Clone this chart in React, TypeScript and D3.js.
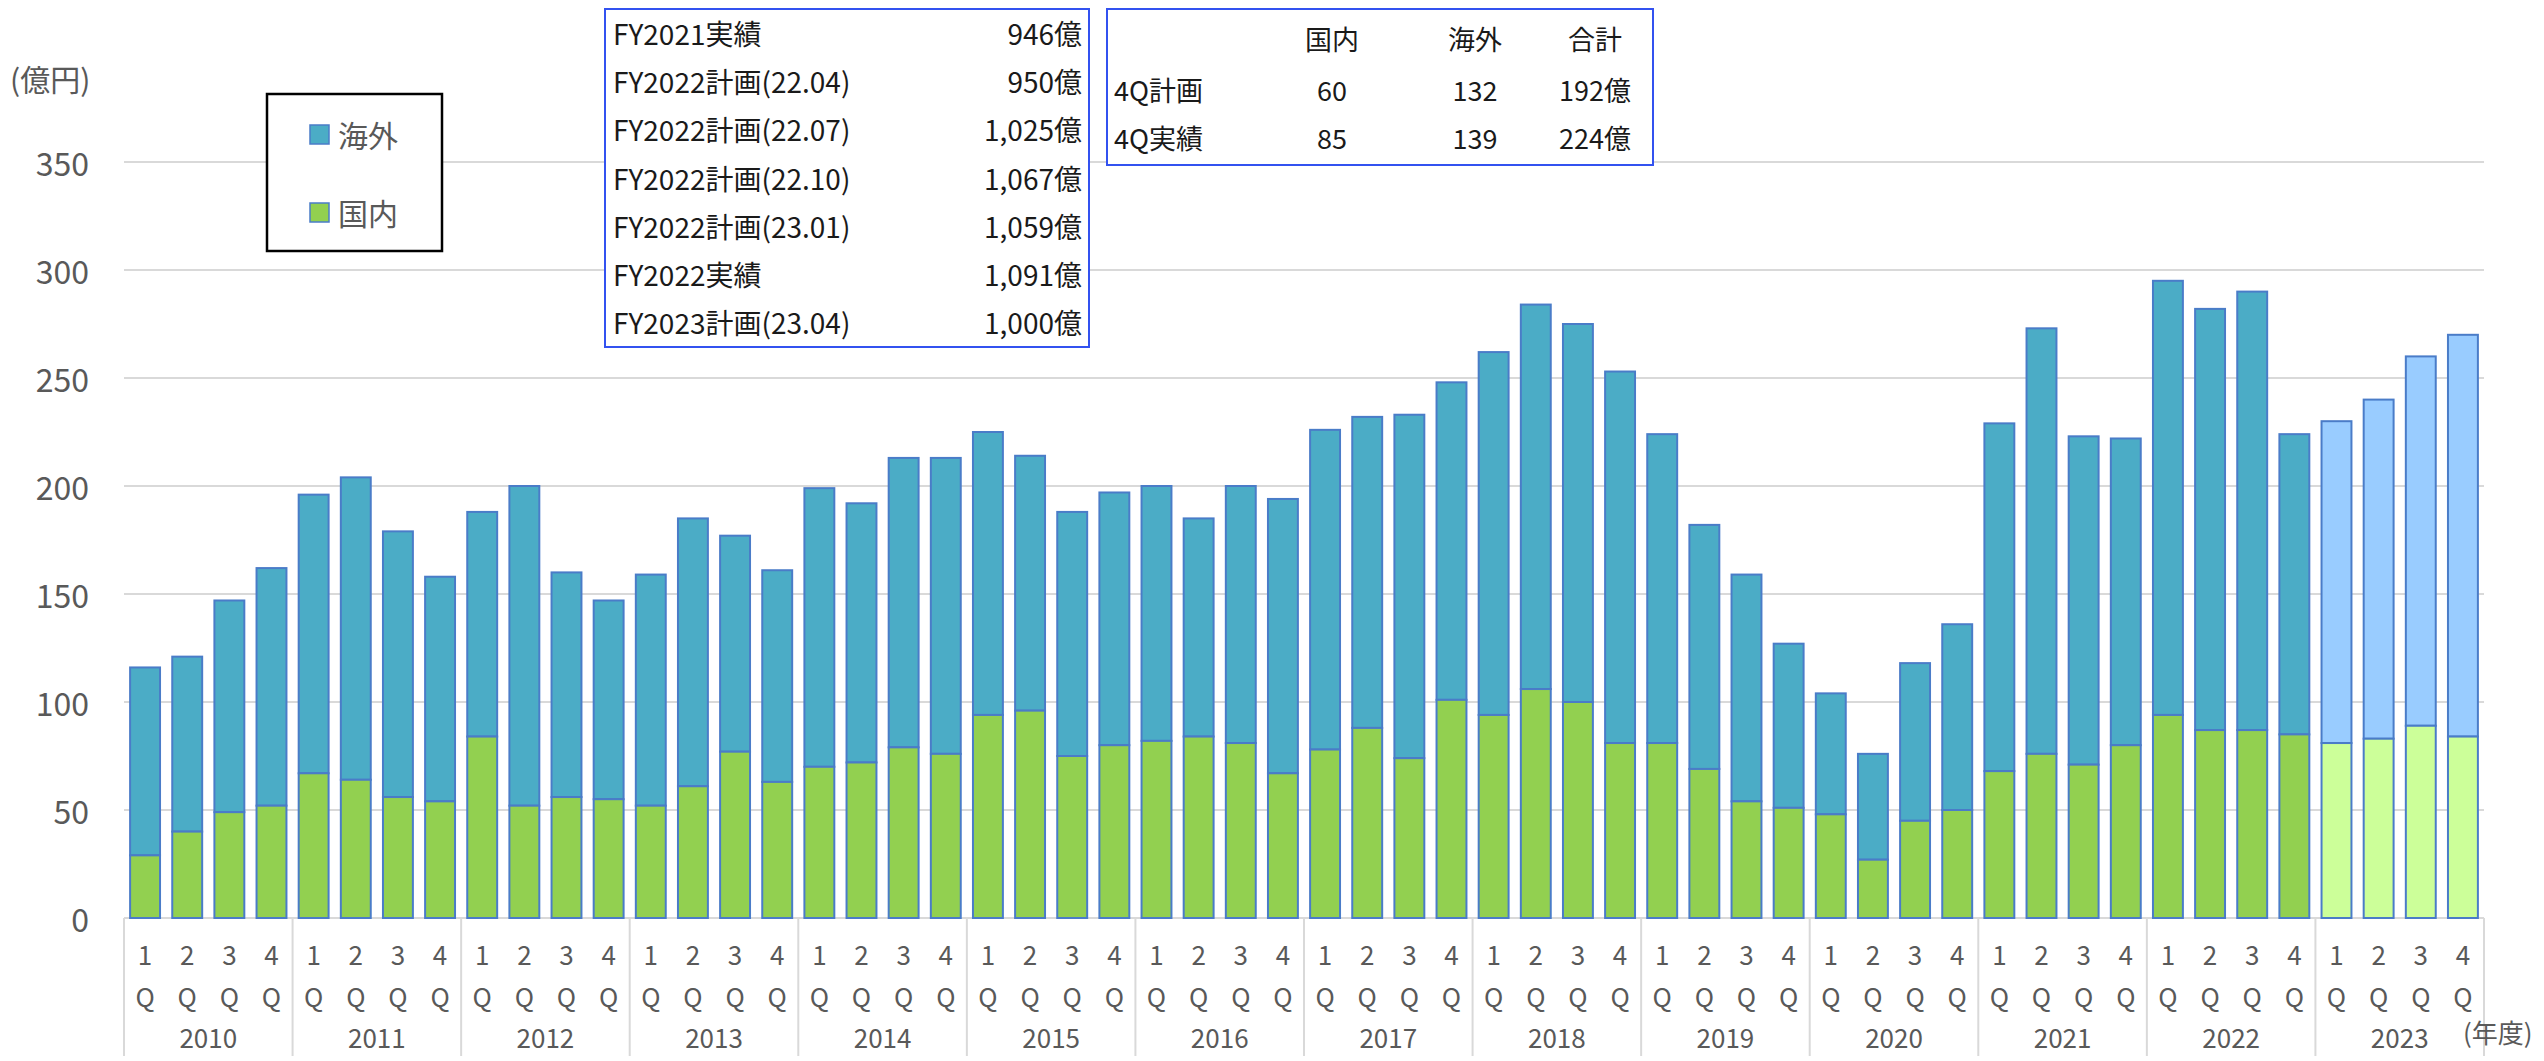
import React from 'react';
import * as d3 from 'd3';

const years = ['2010', '2011', '2012', '2013', '2014', '2015', '2016', '2017', '2018', '2019', '2020', '2021', '2022', '2023'];
const quarters = ['1', '2', '3', '4'];
const planYear = '2023';

// total (国内 + 海外) per quarter, 億円
const totals = [
  116, 121, 147, 162,
  196, 204, 179, 158,
  188, 200, 160, 147,
  159, 185, 177, 161,
  199, 192, 213, 213,
  225, 214, 188, 197,
  200, 185, 200, 194,
  226, 232, 233, 248,
  262, 284, 275, 253,
  224, 182, 159, 127,
  104, 76, 118, 136,
  229, 273, 223, 222,
  295, 282, 290, 224,
  230, 240, 260, 270,
];

// 国内 per quarter
const domestic = [
  29, 40, 49, 52,
  67, 64, 56, 54,
  84, 52, 56, 55,
  52, 61, 77, 63,
  70, 72, 79, 76,
  94, 96, 75, 80,
  82, 84, 81, 67,
  78, 88, 74, 101,
  94, 106, 100, 81,
  81, 69, 54, 51,
  48, 27, 45, 50,
  68, 76, 71, 80,
  94, 87, 87, 85,
  81, 83, 89, 84,
];

const yTicks = [0, 50, 100, 150, 200, 250, 300, 350];

const fyLabels = ['FY2021実績', 'FY2022計画(22.04)', 'FY2022計画(22.07)', 'FY2022計画(22.10)', 'FY2022計画(23.01)', 'FY2022実績', 'FY2023計画(23.04)'];
const fyValues = ['946億', '950億', '1,025億', '1,067億', '1,059億', '1,091億', '1,000億'];

const q4Header = ['国内', '海外', '合計'];
const q4Rows = ['4Q計画', '4Q実績'];
const q4Values = [
  ['60', '132', '192億'],
  ['85', '139', '224億'],
];

const FONT = '"Noto Sans CJK JP", "Noto Sans", sans-serif';
const COLORS = {
  overseas: '#4BACC6',
  domestic: '#92D050',
  overseasPlan: '#99CCFF',
  domesticPlan: '#CCFF99',
  outline: '#4A7CC8',
  grid: '#D9D9D9',
  text: '#595959',
  box: '#3352F0',
};

export default function App() {
  const width = 2544;
  const height = 1061;
  const plot = { left: 124, right: 2484, top: 162, bottom: 918 };

  const keys = years.flatMap((y) => quarters.map((q) => `${y}-${q}`));

  const xScale = d3.scaleBand().domain(keys).range([plot.left, plot.right]).paddingInner(0.29).paddingOuter(0.145);
  const yearScale = d3.scaleBand().domain(years).range([plot.left, plot.right]);
  const yScale = d3.scaleLinear().domain([0, 350]).range([plot.bottom, plot.top]);

  const bars = keys.map((k, i) => {
    const x = xScale(k) ?? 0;
    const isPlan = k.startsWith(planYear);
    const dom = domestic[i];
    const tot = totals[i];
    return (
      <g key={k}>
        <rect
          x={x}
          y={yScale(tot)}
          width={xScale.bandwidth()}
          height={yScale(dom) - yScale(tot)}
          fill={isPlan ? COLORS.overseasPlan : COLORS.overseas}
          stroke={COLORS.outline}
          strokeWidth={2}
        />
        <rect
          x={x}
          y={yScale(dom)}
          width={xScale.bandwidth()}
          height={yScale(0) - yScale(dom)}
          fill={isPlan ? COLORS.domesticPlan : COLORS.domestic}
          stroke={COLORS.outline}
          strokeWidth={2}
        />
      </g>
    );
  });

  const grid = yTicks.map((v) => (
    <g key={v}>
      <line x1={plot.left} x2={plot.right} y1={yScale(v)} y2={yScale(v)} stroke={COLORS.grid} strokeWidth={2} />
      <text x={89} y={yScale(v)} textAnchor="end" dominantBaseline="central" fontSize={32} fill={COLORS.text}>
        {v}
      </text>
    </g>
  ));

  const xLabels = keys.map((k) => {
    const cx = (xScale(k) ?? 0) + xScale.bandwidth() / 2;
    const q = k.split('-')[1];
    return (
      <g key={k} fontSize={26} fill={COLORS.text} textAnchor="middle">
        <text x={cx} y={953} dominantBaseline="central">{q}</text>
        <text x={cx} y={995} dominantBaseline="central">Q</text>
      </g>
    );
  });

  const yearLabels = years.map((y) => {
    const x0 = yearScale(y) ?? 0;
    return (
      <g key={y}>
        <line x1={x0} x2={x0} y1={plot.bottom} y2={1056} stroke={COLORS.grid} strokeWidth={2} />
        <text x={x0 + yearScale.bandwidth() / 2} y={1036} textAnchor="middle" dominantBaseline="central" fontSize={26} fill={COLORS.text}>
          {y}
        </text>
      </g>
    );
  });

  const rowH = 48.2;
  const t1 = { x: 605, y: 9, w: 484, h: 338 };
  const t2 = { x: 1107, y: 9, w: 546, h: 156 };
  const t2Cols = [1332, 1475, 1595];

  return (
    <svg width={width} height={height} style={{ position: 'absolute', left: 0, top: 0, background: '#fff' }} fontFamily={FONT}>
      {grid}
      <line x1={plot.right} x2={plot.right} y1={plot.bottom} y2={1056} stroke={COLORS.grid} strokeWidth={2} />
      {yearLabels}
      {xLabels}
      {bars}

      <text x={10} y={78} dominantBaseline="central" fontSize={30} fill={COLORS.text}>(億円)</text>
      <text x={2463} y={1031} dominantBaseline="central" fontSize={26} fill={COLORS.text}>(年度)</text>

      {/* legend */}
      <rect x={267} y={94} width={175} height={157} fill="#fff" stroke="#000" strokeWidth={2.5} />
      <rect x={310} y={125} width={19} height={19} fill={COLORS.overseas} stroke={COLORS.outline} strokeWidth={1.5} />
      <text x={338} y={134} dominantBaseline="central" fontSize={30} fill={COLORS.text}>海外</text>
      <rect x={310} y={203} width={19} height={19} fill={COLORS.domestic} stroke={COLORS.outline} strokeWidth={1.5} />
      <text x={338} y={212} dominantBaseline="central" fontSize={30} fill={COLORS.text}>国内</text>

      {/* FY table */}
      <rect x={t1.x} y={t1.y} width={t1.w} height={t1.h} fill="#fff" stroke={COLORS.box} strokeWidth={2} />
      {fyLabels.map((l, i) => (
        <g key={l} fontSize={28} fill="#1a1a1a">
          <text x={613} y={33 + i * rowH} dominantBaseline="central">{l}</text>
          <text x={1082} y={33 + i * rowH} textAnchor="end" dominantBaseline="central">{fyValues[i]}</text>
        </g>
      ))}

      {/* 4Q table */}
      <rect x={t2.x} y={t2.y} width={t2.w} height={t2.h} fill="#fff" stroke={COLORS.box} strokeWidth={2} />
      {q4Header.map((h, j) => (
        <text key={h} x={t2Cols[j]} y={38} textAnchor="middle" dominantBaseline="central" fontSize={27} fill="#1a1a1a">{h}</text>
      ))}
      {q4Rows.map((r, i) => (
        <g key={r} fontSize={27} fill="#1a1a1a">
          <text x={1114} y={89 + i * 48.5} dominantBaseline="central">{r}</text>
          {q4Values[i].map((v, j) => (
            <text key={j} x={t2Cols[j]} y={89 + i * 48.5} textAnchor="middle" dominantBaseline="central">{v}</text>
          ))}
        </g>
      ))}
    </svg>
  );
}
